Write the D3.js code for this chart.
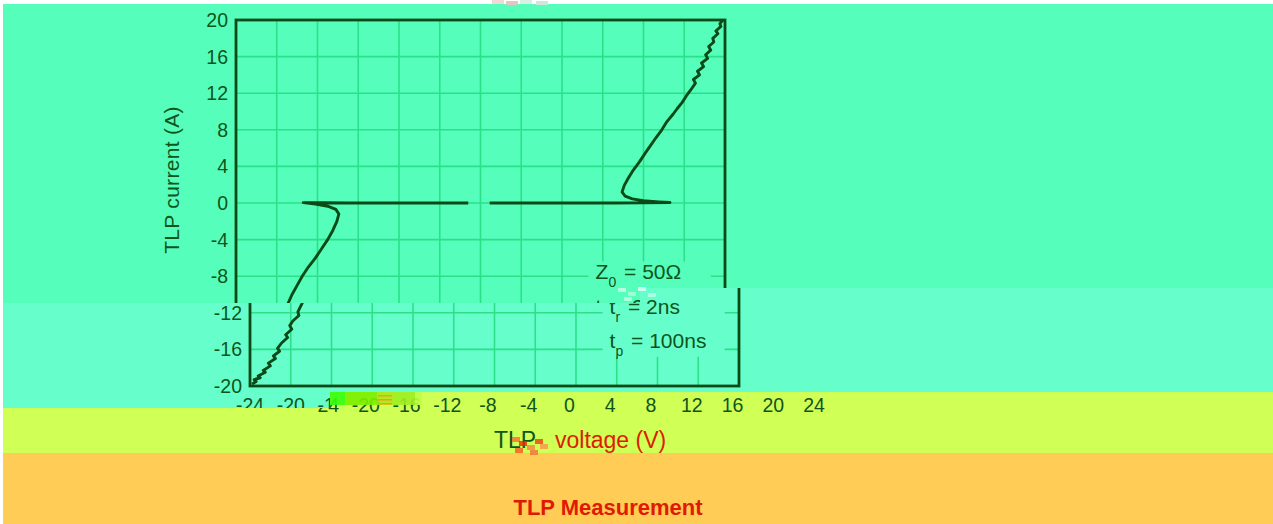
<!DOCTYPE html>
<html><head><meta charset="utf-8">
<script src="https://cdn.jsdelivr.net/npm/d3@7"></script>
<style>html,body{margin:0;padding:0;background:#fff;overflow:hidden}svg{display:block}</style>
</head><body>
<svg id="c" width="1273" height="524"></svg>
<script>
// ---- data ----
const xTicks = [-24,-20,-16,-12,-8,-4,0,4,8,12,16,20,24];
const yTicks = [-20,-16,-12,-8,-4,0,4,8,12,16,20];
const xTitle = ["TLP", "voltage (V)"];
const yTitle = "TLP current (A)";
const caption = "TLP Measurement";
const legendLines = [
  {main:"Z", sub:"0", rest:" = 50Ω"},
  {main:"t", sub:"r", rest:" = 2ns"},
  {main:"t", sub:"p", rest:" = 100ns"}
];
// negative polarity branch (V, A)
const negV = [-1.2,-4,-7,-10,-13,-15.5,-17.4,-16.2,-15,-14.2,-13.9,-14.1,-14.5,-15.0,-15.6,-16.2,-16.9,-17.5,-18.0,-18.5,-18.9,-19.3,-19.2,-19.8,-20.1,-19.9,-20.5,-20.3,-20.9,-21.3,-21.1,-21.7,-21.5,-22.2,-22.0,-22.7,-22.5,-23.2,-23.0,-23.6,-23.4,-23.8];
const negI = [0,0,0,0,0,0.02,0.04,-0.12,-0.35,-0.7,-1.2,-2.0,-3.0,-4.0,-5.0,-6.0,-7.0,-8.0,-9.0,-10.0,-11.0,-11.9,-12.3,-12.9,-13.4,-13.8,-14.4,-14.7,-15.3,-15.9,-16.2,-16.7,-17.0,-17.5,-17.8,-18.3,-18.5,-18.9,-19.1,-19.3,-19.5,-19.8];
// positive polarity branch (V, A)
const posV = [0.9,4,7,10,13,16,18.6,17.5,16,14.9,14.2,13.9,14.1,14.5,15.0,15.6,16.2,16.7,17.2,17.8,18.3,18.9,19.3,19.8,20.2,20.6,21.1,20.9,21.5,21.3,21.9,21.7,22.3,22.1,22.6,22.4,22.9,22.8,23.3,23.1,23.6,23.5,23.8];
const posI = [0,0,0,0,0,0.02,0.05,0.12,0.25,0.45,0.75,1.2,1.9,2.7,3.6,4.5,5.5,6.3,7.1,8.0,8.9,9.7,10.3,11.0,11.7,12.3,13.1,13.5,14.0,14.4,14.9,15.3,15.8,16.2,16.7,17.1,17.6,18.0,18.5,18.8,19.3,19.6,20];

// ---- styling ----
const C = {
  bandA:"#55ffbb", bandB:"#66ffcc", yellow:"#d0ff55", orange:"#ffcc55",
  grid:"#2be088", frame:"#0b4a16", line:"#0b4a16", text:"#0e551b", red:"#e01a00"
};
const FONT = "'Liberation Sans', Arial, Helvetica, sans-serif";

const svg = d3.select("#c");
const x = d3.scaleLinear().domain([-24,24]).range([236,725]);
const y = d3.scaleLinear().domain([-20,20]).range([386,20]);

const defs = svg.append("defs");
function clip(id, rects){
  const cp = defs.append("clipPath").attr("id", id);
  rects.forEach(r => cp.append("rect").attr("x",r[0]).attr("y",r[1]).attr("width",r[2]).attr("height",r[3]));
}
const regA = [[3,4,637,299],[640,4,633,284]];
const regB = [[640,288,633,15],[3,303,1270,89],[3,392,327,16]];
const regC = [[330,392,943,61],[3,408,327,45]];
clip("cA", regA); clip("cB", regB); clip("cC", regC);

// backgrounds
function bands(rects, fill){ rects.forEach(r => svg.append("rect").attr("x",r[0]).attr("y",r[1]).attr("width",r[2]).attr("height",r[3]).attr("fill",fill)); }
bands(regA, C.bandA); bands(regB, C.bandB); bands(regC, C.yellow);
svg.append("rect").attr("x",3).attr("y",453).attr("width",1270).attr("height",71).attr("fill",C.orange);

function drawChart(g, bg){
  // grid
  g.append("g").selectAll("line").data(xTicks).join("line")
    .attr("x1",d=>x(d)).attr("x2",d=>x(d)).attr("y1",y(20)).attr("y2",y(-20))
    .attr("stroke",C.grid).attr("stroke-width",1.6);
  g.append("g").selectAll("line").data(yTicks).join("line")
    .attr("y1",d=>y(d)).attr("y2",d=>y(d)).attr("x1",x(-24)).attr("x2",x(24))
    .attr("stroke",C.grid).attr("stroke-width",1.6);
  // legend box (covers grid)
  g.append("rect").attr("x",x(10.6)).attr("y",y(-6.4)).attr("width",x(22.6)-x(10.6)).attr("height",y(-16.8)-y(-6.4)).attr("fill",bg);
  // curves
  const line = d3.line().x(d=>x(d[0])).y(d=>y(d[1])).curve(d3.curveLinear);
  [[negV,negI],[posV,posI]].forEach(([vs,is]) => {
    g.append("path").datum(vs.map((v,i)=>[v,is[i]])).attr("d",line)
      .attr("fill","none").attr("stroke",C.line).attr("stroke-width",2.9).attr("stroke-linejoin","round");
  });
  // frame
  g.append("rect").attr("x",x(-24)).attr("y",y(20)).attr("width",x(24)-x(-24)).attr("height",y(-20)-y(20))
    .attr("fill","none").attr("stroke",C.frame).attr("stroke-width",2.8);
  // y tick labels
  g.append("g").selectAll("text").data(yTicks).join("text")
    .attr("x",x(-24)-8).attr("y",d=>y(d)).attr("dy","0.36em").attr("text-anchor","end")
    .attr("font-family",FONT).attr("font-size",19.5).attr("fill",C.text).text(d=>d);
  // y title
  g.append("text").attr("transform",`translate(179,${(y(20)+y(-20))/2-23}) rotate(-90)`)
    .attr("text-anchor","middle").attr("font-family",FONT).attr("font-size",21).attr("letter-spacing",0.3)
    .attr("fill",C.text).text(yTitle);
  // x tick labels
  g.append("g").selectAll("text").data(xTicks).join("text")
    .attr("x",d=>x(d)).attr("y",412).attr("text-anchor","middle")
    .attr("font-family",FONT).attr("font-size",19.5).attr("fill",C.text).text(d=>d);
  // legend
  const lg = g.append("g");
  legendLines.forEach((L,i) => {
    const t = lg.append("text").attr("x",x(11.3)).attr("y",279+i*34.5)
      .attr("font-family",FONT).attr("font-size",21).attr("fill",C.text);
    t.append("tspan").text(L.main);
    t.append("tspan").attr("font-size",14).attr("dy",8).text(L.sub);
    t.append("tspan").attr("dy",-8).attr("dx",2).text(L.rest);
  });
}

const gA = svg.append("g").attr("clip-path","url(#cA)");
drawChart(gA, C.bandA);
const gB = svg.append("g").attr("clip-path","url(#cB)").append("g").attr("transform","translate(14,0)");
drawChart(gB, C.bandB);
const gC = svg.append("g").attr("clip-path","url(#cC)").append("g").attr("transform","translate(89,0)");
drawChart(gC, C.yellow);

// glitch block over the x labels
const blk = [[330,15,"#33ff11"],[345,32,"#7aee00"],[377,16,"#a8e818"],[393,22,"#9eee22"],[415,7,"#bbff44"]];
svg.append("g").selectAll("rect").data(blk).join("rect")
  .attr("x",d=>d[0]).attr("y",392).attr("width",d=>d[1]).attr("height",13).attr("fill",d=>d[2]).attr("opacity",0.9);
svg.append("g").selectAll("rect").data([395,399,403]).join("rect")
  .attr("x",378).attr("y",d=>d).attr("width",14).attr("height",1.5).attr("fill","#f0a020");

// x title (recoloured glitch)
svg.append("text").attr("x",494).attr("y",448).attr("font-family",FONT).attr("font-size",23)
  .attr("fill",C.text).text(xTitle[0]);
svg.append("g").selectAll("rect").data([[512,437,"#ff6a30"],[519,441,"#ee2a00"],[527,445,"#ff8040"],[535,439,"#f04010"],[515,448,"#ff5520"],[530,450,"#f07038"],[540,444,"#ff9050"]]).join("rect")
  .attr("x",d=>d[0]).attr("y",d=>d[1]).attr("width",8).attr("height",5).attr("fill",d=>d[2]).attr("opacity",0.8);
svg.append("text").attr("x",555).attr("y",448).attr("font-family",FONT).attr("font-size",23)
  .attr("fill",C.red).text(xTitle[1]);

// noise near band step
svg.append("g").selectAll("rect").data([[618,288,"#b8ffe4"],[628,292,"#9effd6"],[638,287,"#c8fff0"],[648,293,"#a8ffde"],[624,297,"#b0ffe0"]]).join("rect")
  .attr("x",d=>d[0]).attr("y",d=>d[1]).attr("width",8).attr("height",4).attr("fill",d=>d[2]);
// noise in top strip
svg.append("g").selectAll("rect").data([[492,0,"#f3d8d8"],[506,1,"#e0c8c0"],[520,0,"#d9efe4"],[536,1,"#cce8dd"]]).join("rect")
  .attr("x",d=>d[0]).attr("y",d=>d[1]).attr("width",12).attr("height",4).attr("fill",d=>d[2]);

// caption
svg.append("text").attr("x",608).attr("y",515).attr("text-anchor","middle")
  .attr("font-family",FONT).attr("font-size",22).attr("font-weight","bold")
  .attr("fill",C.red).text(caption);
</script>
</body></html>
